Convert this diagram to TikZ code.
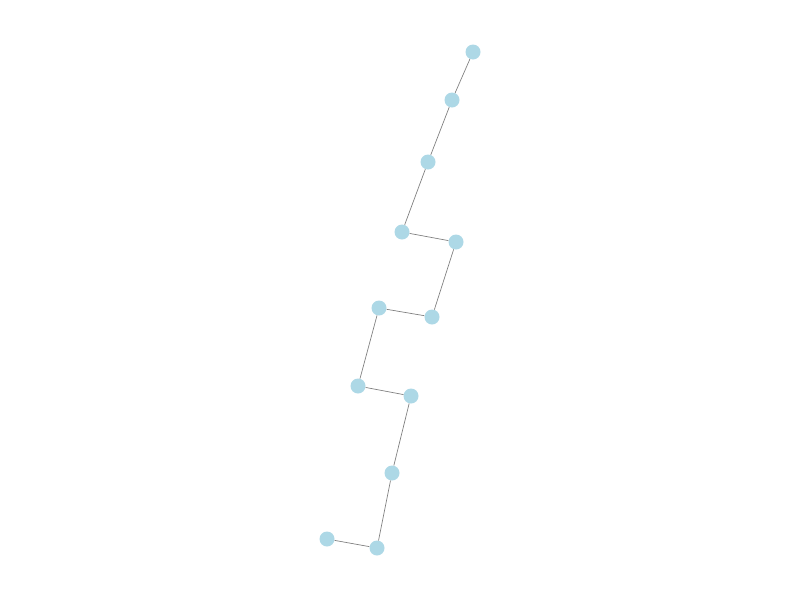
\documentclass[tikz,border=0pt]{standalone}
\usetikzlibrary{}
\definecolor{nodeblue}{RGB}{173,216,230}
\definecolor{edgegray}{RGB}{128,128,128}
\tikzset{
  vert/.style={circle, fill=nodeblue, draw=none, minimum size=15pt, inner sep=0pt},
  edge/.style={draw=edgegray, line width=0.7pt}
}
\begin{document}
\begin{tikzpicture}[x=1pt,y=-1pt]
\useasboundingbox (0,0) rectangle (800,600);
\node[vert] (n1) at (473,52) {};
\node[vert] (n2) at (452,100) {};
\node[vert] (n3) at (428,162) {};
\node[vert] (n4) at (402,232) {};
\node[vert] (n5) at (456,242) {};
\node[vert] (n6) at (432,317) {};
\node[vert] (n7) at (379,308) {};
\node[vert] (n8) at (358,386) {};
\node[vert] (n9) at (411,396) {};
\node[vert] (n10) at (392,473) {};
\node[vert] (n11) at (377,548) {};
\node[vert] (n12) at (327,539) {};
\begin{scope}[on background layer/.style={}]
\end{scope}
\draw[edge] (n1) -- (n2);
\draw[edge] (n2) -- (n3);
\draw[edge] (n3) -- (n4);
\draw[edge] (n4) -- (n5);
\draw[edge] (n5) -- (n6);
\draw[edge] (n6) -- (n7);
\draw[edge] (n7) -- (n8);
\draw[edge] (n8) -- (n9);
\draw[edge] (n9) -- (n10);
\draw[edge] (n10) -- (n11);
\draw[edge] (n11) -- (n12);
\end{tikzpicture}
\end{document}
